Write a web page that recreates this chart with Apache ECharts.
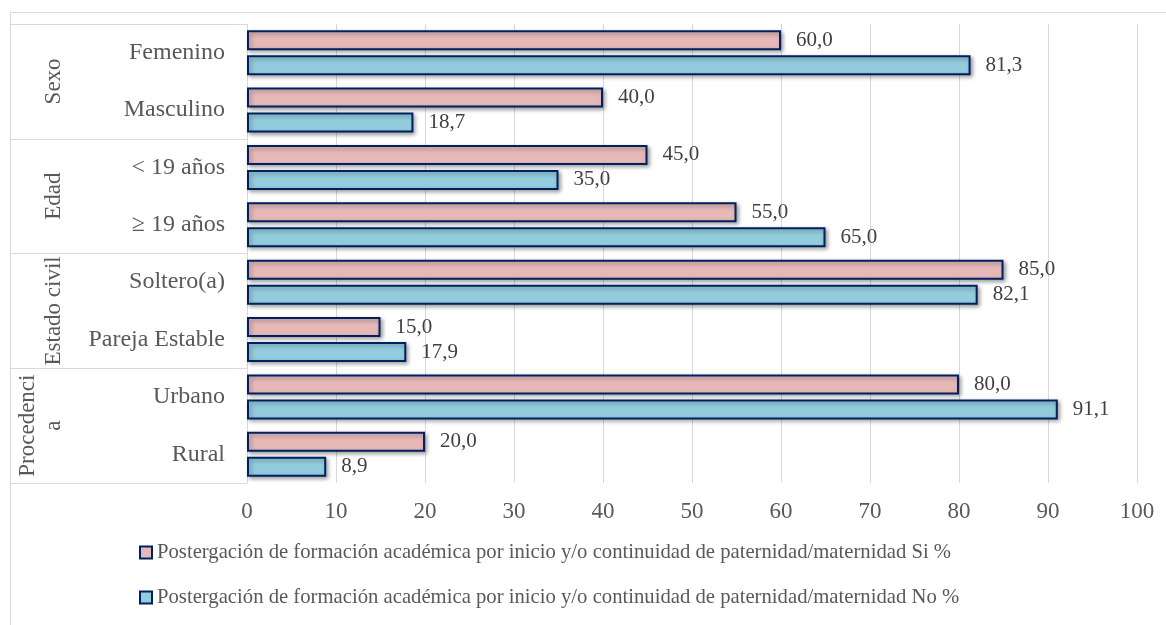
<!DOCTYPE html>
<html>
<head>
<meta charset="utf-8">
<script src="https://cdn.jsdelivr.net/npm/echarts@6/dist/echarts.min.js"></script>
<style>
html,body{margin:0;padding:0;background:#fff;}
#main{width:1166px;height:625px;}
</style>
</head>
<body>
<div id="main"></div>
<script>
var categories = ['Femenino', 'Masculino', '< 19 años', '≥ 19 años', 'Soltero(a)', 'Pareja Estable', 'Urbano', 'Rural'];
var groups = ['Sexo', 'Edad', 'Estado civil', 'Procedenci\na'];
var seriesSiName = 'Postergación de formación académica por inicio y/o continuidad de paternidad/maternidad Si %';
var seriesNoName = 'Postergación de formación académica por inicio y/o continuidad de paternidad/maternidad No %';
var valuesSi = [60.0, 40.0, 45.0, 55.0, 85.0, 15.0, 80.0, 20.0];
var valuesNo = [81.3, 18.7, 35.0, 65.0, 82.1, 17.9, 91.1, 8.9];

var FONT = '"Liberation Serif", "Times New Roman", serif';
var TXT = '#595959';

function fmt(p) { return p.value.toFixed(1).replace('.', ','); }

function barSeries(name, data, color) {
  return {
    name: name,
    type: 'bar',
    yAxisIndex: 0,
    data: data,
    barWidth: 20,
    barGap: '25%',
    itemStyle: {
      color: color,
      borderColor: '#002060',
      borderWidth: 2,
      shadowColor: 'rgba(0,0,0,0.35)',
      shadowBlur: 4,
      shadowOffsetX: 2,
      shadowOffsetY: 2
    },
    label: {
      show: true,
      position: 'right',
      distance: 15,
      formatter: fmt,
      fontFamily: FONT,
      fontSize: 21,
      color: '#404040'
    },
    emphasis: { disabled: true },
    animation: false
  };
}

var chart = echarts.init(document.getElementById('main'));
chart.setOption({
  animation: false,
  textStyle: { fontFamily: FONT },
  graphic: [{
    type: 'rect',
    shape: { x: 10.5, y: 12.5, width: 1300, height: 800 },
    style: { fill: 'none', stroke: '#d9d9d9', lineWidth: 1 },
    silent: true
  }],
  grid: { left: 247, right: 29, top: 24, bottom: 142, containLabel: false },
  legend: {
    orient: 'vertical',
    left: 134,
    top: 537,
    itemWidth: 12,
    itemHeight: 12,
    itemGap: 24,
    icon: 'rect',
    textStyle: { fontFamily: FONT, fontSize: 20.7, color: TXT },
    data: [seriesSiName, seriesNoName]
  },
  xAxis: {
    type: 'value',
    min: 0,
    max: 100,
    interval: 10,
    axisLine: { show: false },
    axisTick: { show: false },
    splitLine: { show: true, lineStyle: { color: '#d9d9d9', width: 1 } },
    axisLabel: { fontFamily: FONT, fontSize: 23, color: TXT, margin: 17 }
  },
  yAxis: [{
    type: 'category',
    data: categories,
    inverse: true,
    position: 'left',
    axisLine: { show: true, lineStyle: { color: '#d9d9d9', width: 1 } },
    axisTick: { show: false },
    axisLabel: { fontFamily: FONT, fontSize: 24, color: TXT, margin: 22, interval: 0 }
  }, {
    type: 'category',
    data: groups,
    inverse: true,
    position: 'left',
    offset: 0,
    axisLine: { show: false },
    axisTick: { show: true, interval: 0, length: 237, lineStyle: { color: '#d9d9d9', width: 1 } },
    axisLabel: { fontFamily: FONT, fontSize: 23, color: TXT, rotate: 90, margin: 180, lineHeight: 26, interval: 0 },
    splitLine: { show: false }
  }],
  series: [
    barSeries(seriesSiName, valuesSi, '#E6B9B8'),
    barSeries(seriesNoName, valuesNo, '#93CDDD')
  ]
});
</script>
</body>
</html>
